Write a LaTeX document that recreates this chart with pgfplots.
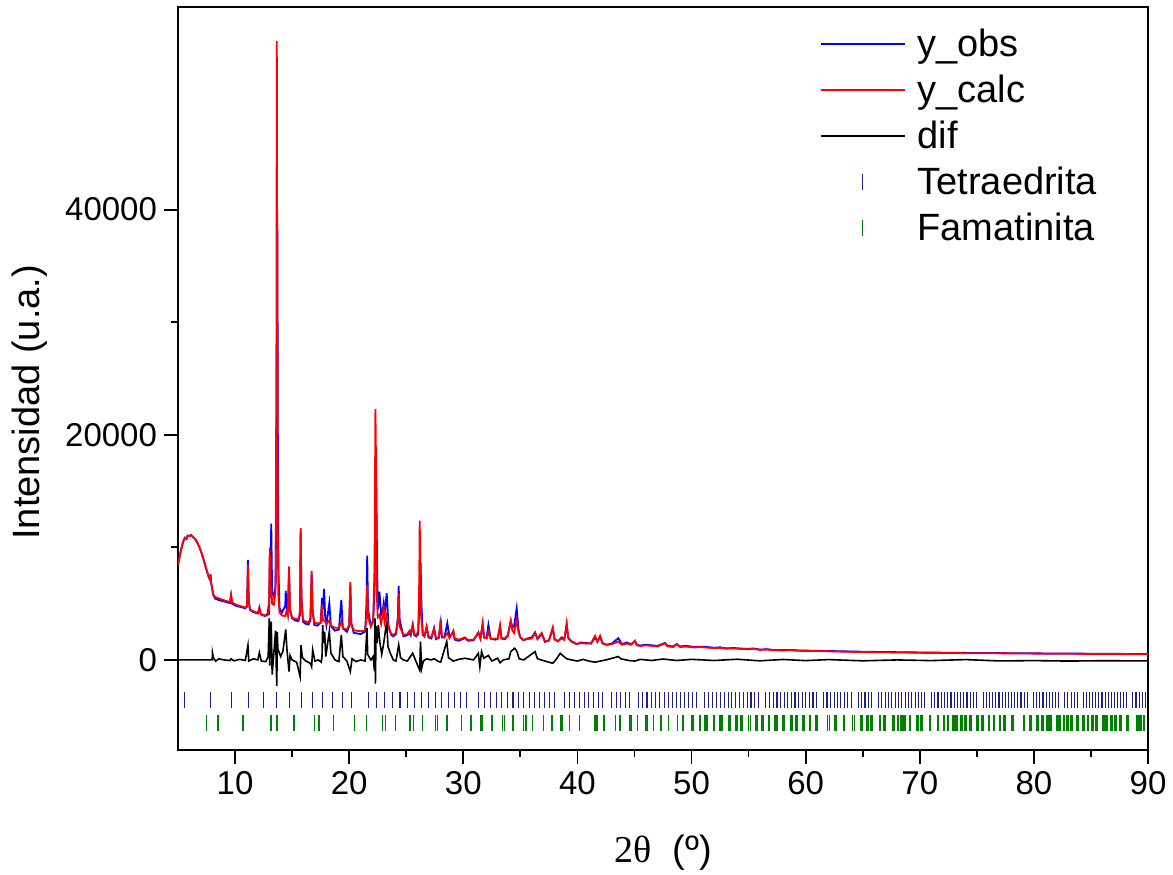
\documentclass[border=0pt]{standalone}
\usepackage{fontspec}
\setmainfont{Liberation Sans}
\newfontfamily\seriffont{Liberation Serif}
\usepackage{pgfplots}
\pgfplotsset{compat=1.18}
\definecolor{tetra}{RGB}{30,30,140}
\definecolor{fama}{RGB}{0,128,0}

\pgfplotstableread{
x y
5.00 8450
5.15 9200
5.30 9900
5.45 10500
5.60 10850
5.75 10750
5.85 11050
6.00 11000
6.15 11100
6.30 10950
6.50 10750
6.70 10400
6.90 9950
7.10 9400
7.30 8700
7.50 8000
7.70 7350
7.80 7150
7.85 7600
7.90 6900
8.00 6300
8.10 5800
8.25 5600
8.50 5500
8.80 5380
9.20 5250
9.55 5130
9.65 5800
9.75 5100
10.10 4900
10.50 4780
10.90 4650
11.05 4800
11.13 8450
11.20 5200
11.30 4500
11.60 4320
12.00 4170
12.13 4600
12.25 4100
12.60 3950
12.85 3950
12.98 4500
13.04 10000
13.10 5500
13.17 6500
13.25 5000
13.40 4900
13.55 6000
13.62 26000
13.66 55000
13.70 30000
13.74 12000
13.80 5500
13.90 4200
14.10 3950
14.40 3900
14.50 4300
14.62 4000
14.73 8300
14.82 4300
15.00 3750
15.30 3650
15.55 3600
15.68 4200
15.75 11700
15.82 5200
15.95 3550
16.20 3400
16.45 3350
16.60 3700
16.71 7900
16.80 4200
16.95 3300
17.20 3250
17.50 3300
17.62 4900
17.70 3500
17.85 3500
18.00 3200
18.26 3500
18.40 3050
18.75 2850
19.10 2850
19.31 3400
19.45 2800
19.80 2700
20.00 3100
20.10 6900
20.18 3200
20.40 2650
20.70 2580
21.00 2550
21.40 2600
21.52 4000
21.58 6670
21.65 3800
21.90 3000
22.10 3400
22.22 8000
22.30 22300
22.36 17000
22.42 6000
22.50 3800
22.65 4000
22.80 3200
22.95 4000
23.02 4890
23.10 3300
23.29 4000
23.45 2800
23.70 2300
23.87 2220
24.10 2400
24.27 3500
24.34 5930
24.42 3000
24.75 2220
25.10 2300
25.30 2600
25.40 2400
25.57 3110
25.70 2300
25.90 2200
26.05 2600
26.14 7000
26.18 12380
26.23 9000
26.30 4000
26.45 2200
26.60 2100
26.79 2960
26.95 2100
27.20 2000
27.44 2800
27.60 1950
27.85 2000
28.02 3615
28.12 2100
28.35 2000
28.60 2370
28.80 1950
29.13 2600
29.25 1900
29.60 1800
30.15 2000
30.40 1780
30.90 1800
31.32 2370
31.50 1900
31.70 3320
31.82 2000
32.05 1900
32.20 2520
32.40 1850
32.80 1900
33.00 1850
33.22 3110
33.35 1900
33.66 1930
33.90 2100
34.16 3500
34.30 2600
34.45 2400
34.68 3555
34.85 2400
35.00 2000
35.27 1780
35.60 1850
36.00 1900
36.29 2370
36.50 1900
36.87 2400
37.16 1630
37.50 1700
37.84 2900
38.00 1800
38.30 1700
38.63 1900
38.85 1800
39.06 3260
39.20 1900
39.50 1600
39.94 1420
40.30 1500
40.80 1450
41.20 1500
41.55 2130
41.75 1600
41.99 2130
42.20 1450
42.57 1330
43.00 1400
43.59 1630
43.90 1350
44.32 1450
44.70 1350
45.05 1720
45.20 1300
45.49 1240
46.00 1300
46.50 1250
47.00 1200
47.68 1480
47.90 1200
48.40 1150
48.70 1420
49.00 1150
49.58 1185
50.20 1100
50.80 1150
51.33 1100
52.00 1050
52.50 1080
53.00 1000
53.70 1030
54.30 980
55.00 950
55.42 990
56.00 890
56.60 920
57.20 860
58.00 840
58.70 860
59.40 810
60.00 800
61.00 790
62.00 760
63.00 740
64.00 720
65.00 700
66.00 690
67.00 680
68.00 660
69.00 650
70.00 630
72.00 620
74.00 600
76.00 590
78.00 580
80.00 560
82.00 550
84.00 540
86.00 530
88.00 515
90.00 505
}\ycalc

\pgfplotstableread{
x y
5.00 8450
5.15 9200
5.30 9900
5.45 10500
5.60 10850
5.75 10750
5.85 11050
6.00 11000
6.15 11100
6.30 10950
6.50 10750
6.70 10400
6.90 9950
7.10 9400
7.30 8700
7.50 8000
7.70 7350
7.80 7150
7.85 7600
7.90 6900
8.00 6300
8.10 5750
8.25 5450
8.50 5350
8.80 5250
9.20 5150
9.55 5050
9.65 5700
9.75 5000
10.10 4800
10.50 4700
10.90 4580
11.05 4750
11.13 8890
11.20 5300
11.30 4450
11.60 4250
12.00 4120
12.13 4650
12.25 4050
12.60 3900
12.85 4100
12.90 4500
12.98 4000
13.04 9000
13.10 7000
13.17 12100
13.25 6000
13.40 5600
13.55 6500
13.62 16000
13.67 27000
13.71 38200
13.75 20000
13.80 8000
13.90 4600
14.10 4200
14.40 4800
14.44 6160
14.50 4800
14.62 4100
14.73 7800
14.82 4500
15.00 3700
15.30 3500
15.55 3450
15.68 4000
15.75 11300
15.82 5600
15.95 3400
16.20 3200
16.45 3150
16.60 3500
16.71 7600
16.80 4300
16.95 3100
17.20 3050
17.50 3300
17.62 5500
17.70 4500
17.80 6300
17.90 3800
18.00 3100
18.26 5040
18.40 3000
18.75 2600
19.10 2700
19.31 5330
19.45 2800
19.80 2500
20.00 3000
20.10 6600
20.18 3300
20.40 2400
20.70 2350
21.00 2300
21.40 2500
21.52 5000
21.58 9270
21.65 4500
21.90 3000
22.10 3500
22.22 6000
22.30 12000
22.38 15400
22.45 8000
22.52 4500
22.65 6070
22.80 4000
22.95 4500
23.02 5000
23.10 4000
23.29 5930
23.45 3000
23.70 2200
23.87 2100
24.10 2300
24.27 3800
24.34 6580
24.42 3600
24.75 2100
25.10 2200
25.30 2400
25.40 2200
25.57 3110
25.70 2200
25.90 2100
26.05 2300
26.14 4500
26.20 7500
26.26 8600
26.33 5000
26.45 2300
26.60 2100
26.79 2900
26.95 2000
27.20 1900
27.44 2815
27.60 1850
27.85 1950
28.02 3300
28.12 2000
28.35 2000
28.60 3260
28.80 2000
29.13 2500
29.25 1800
29.60 1700
30.15 1950
30.40 1700
30.90 1750
31.32 2450
31.50 1900
31.70 3100
31.82 2000
32.05 2000
32.20 3110
32.40 1900
32.80 1800
33.00 1850
33.22 2900
33.35 1900
33.66 1850
33.90 2200
34.16 3450
34.30 2900
34.45 3000
34.68 4590
34.85 2600
35.00 2000
35.27 1750
35.60 1900
36.00 2000
36.29 2450
36.50 1850
36.87 2300
37.16 1600
37.50 1750
37.84 2750
38.00 1850
38.30 1650
38.63 2000
38.85 1800
39.06 3100
39.20 1950
39.50 1650
39.94 1400
40.30 1550
40.80 1500
41.20 1450
41.55 2000
41.75 1650
41.99 2050
42.20 1500
42.57 1350
43.00 1450
43.59 1930
43.90 1400
44.32 1550
44.70 1400
45.05 1650
45.20 1350
45.49 1280
46.00 1350
46.50 1300
47.00 1250
47.68 1500
47.90 1250
48.40 1200
48.70 1400
49.00 1200
49.58 1250
50.20 1150
50.80 1180
51.33 1150
52.00 1080
52.50 1120
53.00 1030
53.70 1060
54.30 1010
55.00 980
55.42 1020
56.00 920
56.60 950
57.20 890
58.00 870
58.70 890
59.40 840
60.00 830
61.00 810
62.00 790
63.00 770
64.00 750
65.00 730
66.00 715
67.00 700
68.00 690
69.00 680
70.00 665
72.00 645
74.00 625
76.00 610
78.00 600
80.00 585
82.00 570
84.00 560
86.00 550
88.00 535
90.00 525
}\yobs

\pgfplotstableread{
x y
5.00 0
8.00 0
8.02 650
8.10 200
8.30 -100
8.60 100
9.00 0
9.55 -50
9.65 100
9.90 -80
10.40 50
10.90 -50
11.13 1300
11.20 -100
11.60 100
12.00 0
12.13 650
12.30 -100
12.70 -150
12.90 300
13.00 3700
13.04 -500
13.10 1800
13.17 3400
13.25 -1300
13.40 600
13.55 2600
13.62 -1000
13.66 -2300
13.70 2500
13.75 1000
13.85 700
14.00 300
14.20 800
14.44 2700
14.55 900
14.73 -1040
14.82 400
15.00 0
15.40 -200
15.70 -1480
15.78 1300
15.90 200
16.20 -100
16.60 -300
16.71 -600
16.80 900
17.00 -100
17.30 0
17.55 -200
17.62 300
17.68 3100
17.75 1500
17.85 2500
17.95 300
18.26 2520
18.40 600
18.76 0
19.10 -150
19.31 2220
19.45 300
19.80 -100
20.10 -1040
20.25 100
20.60 -150
21.00 0
21.40 -100
21.56 2815
21.62 500
21.90 0
22.10 300
22.22 -1000
22.26 3700
22.30 -2100
22.36 3000
22.45 1500
22.55 3110
22.70 1500
22.85 500
23.00 1300
23.29 3410
23.40 1200
23.60 600
23.87 0
24.10 -100
24.34 1330
24.50 200
24.75 0
25.10 -100
25.57 600
25.80 0
26.18 -900
26.25 1630
26.35 -740
26.50 -100
26.79 100
27.20 0
27.44 100
27.85 -150
28.02 -200
28.55 1630
28.70 200
29.13 -100
29.60 50
30.15 150
30.90 0
31.32 590
31.45 -590
31.60 740
31.80 150
32.20 400
32.50 -100
33.00 150
33.22 -250
33.50 0
34.00 100
34.16 740
34.50 1040
34.68 800
34.90 100
35.30 0
36.29 740
36.50 100
37.00 -50
37.84 -300
38.10 0
38.50 590
38.70 400
39.06 100
39.50 0
40.00 -100
40.50 50
41.00 -100
41.55 -200
42.00 -100
42.50 0
43.59 300
43.80 100
44.50 -50
45.05 -100
45.50 50
46.50 -50
47.50 80
48.70 -50
50.00 50
52.00 -50
54.00 60
56.00 -80
58.00 40
60.00 -60
62.00 30
65.00 -80
68.00 0
71.00 -60
74.00 30
77.00 -90
80.00 -60
83.00 -100
86.00 -70
90.00 -90
}\ydif

\pgfplotstableread{
x y
5.57 -3560
7.88 -3560
9.65 -3560
11.15 -3560
12.47 -3560
13.67 -3560
14.77 -3560
15.80 -3560
16.76 -3560
17.67 -3560
18.54 -3560
19.38 -3560
20.18 -3560
21.69 -3560
22.41 -3560
23.11 -3560
23.79 -3560
24.45 -3560
25.10 -3560
25.73 -3560
26.34 -3560
26.94 -3560
27.54 -3560
28.12 -3560
28.68 -3560
29.24 -3560
29.79 -3560
30.32 -3560
31.36 -3560
31.88 -3560
32.40 -3560
32.90 -3560
33.38 -3560
33.87 -3560
34.36 -3560
34.84 -3560
35.31 -3560
35.77 -3560
36.23 -3560
36.68 -3560
37.14 -3560
37.59 -3560
38.03 -3560
38.89 -3560
39.32 -3560
39.75 -3560
40.18 -3560
40.59 -3560
41.00 -3560
41.41 -3560
41.82 -3560
42.23 -3560
43.02 -3560
43.41 -3560
43.80 -3560
44.20 -3560
44.59 -3560
45.35 -3560
45.73 -3560
46.10 -3560
46.48 -3560
46.85 -3560
47.23 -3560
47.60 -3560
47.96 -3560
48.32 -3560
48.67 -3560
49.03 -3560
49.39 -3560
49.75 -3560
50.11 -3560
50.46 -3560
51.15 -3560
51.50 -3560
51.84 -3560
52.19 -3560
52.54 -3560
52.87 -3560
53.21 -3560
53.54 -3560
53.88 -3560
54.21 -3560
54.55 -3560
54.88 -3560
55.21 -3560
55.54 -3560
55.86 -3560
56.51 -3560
56.84 -3560
57.16 -3560
57.49 -3560
57.81 -3560
58.12 -3560
58.44 -3560
58.75 -3560
59.07 -3560
59.39 -3560
59.70 -3560
60.02 -3560
60.33 -3560
60.64 -3560
60.94 -3560
61.56 -3560
61.87 -3560
62.18 -3560
62.49 -3560
62.79 -3560
63.09 -3560
63.39 -3560
63.69 -3560
63.99 -3560
64.60 -3560
64.90 -3560
65.20 -3560
65.49 -3560
65.79 -3560
66.38 -3560
66.67 -3560
66.97 -3560
67.27 -3560
67.56 -3560
67.85 -3560
68.14 -3560
68.43 -3560
68.72 -3560
69.01 -3560
69.30 -3560
69.59 -3560
69.88 -3560
70.17 -3560
70.45 -3560
71.02 -3560
71.31 -3560
71.60 -3560
71.88 -3560
72.17 -3560
72.45 -3560
72.74 -3560
73.02 -3560
73.30 -3560
73.58 -3560
73.86 -3560
74.14 -3560
74.43 -3560
74.71 -3560
74.99 -3560
75.55 -3560
75.82 -3560
76.10 -3560
76.38 -3560
76.66 -3560
76.94 -3560
77.22 -3560
77.49 -3560
77.77 -3560
78.05 -3560
78.32 -3560
78.60 -3560
78.87 -3560
79.15 -3560
79.42 -3560
79.98 -3560
80.25 -3560
80.52 -3560
80.80 -3560
81.07 -3560
81.34 -3560
81.62 -3560
81.89 -3560
82.17 -3560
82.71 -3560
82.98 -3560
83.26 -3560
83.53 -3560
83.80 -3560
84.34 -3560
84.62 -3560
84.89 -3560
85.16 -3560
85.43 -3560
85.70 -3560
85.97 -3560
86.24 -3560
86.51 -3560
86.79 -3560
87.06 -3560
87.33 -3560
87.60 -3560
87.87 -3560
88.14 -3560
88.68 -3560
88.95 -3560
89.22 -3560
89.49 -3560
89.76 -3560
}\tetra

\pgfplotstableread{
x y
7.51 -5590
8.48 -5590
10.67 -5590
13.15 -5590
13.65 -5590
15.17 -5590
16.95 -5590
17.36 -5590
18.61 -5590
20.48 -5590
21.51 -5590
22.91 -5590
23.20 -5590
24.05 -5590
25.33 -5590
25.62 -5590
26.41 -5590
27.55 -5590
27.73 -5590
28.55 -5590
29.86 -5590
30.65 -5590
31.53 -5590
31.70 -5590
32.49 -5590
33.42 -5590
33.60 -5590
34.33 -5590
35.27 -5590
35.47 -5590
36.06 -5590
37.02 -5590
37.75 -5590
38.54 -5590
38.71 -5590
39.30 -5590
40.17 -5590
41.55 -5590
41.70 -5590
42.34 -5590
43.33 -5590
43.74 -5590
44.56 -5590
44.70 -5590
45.26 -5590
45.95 -5590
46.10 -5590
46.66 -5590
47.30 -5590
47.97 -5590
48.76 -5590
49.23 -5590
50.02 -5590
50.11 -5590
50.69 -5590
50.78 -5590
51.20 -5590
51.35 -5590
51.92 -5590
52.01 -5590
52.52 -5590
52.67 -5590
53.29 -5590
53.38 -5590
53.91 -5590
54.00 -5590
54.31 -5590
54.40 -5590
55.00 -5590
55.15 -5590
55.66 -5590
55.75 -5590
56.17 -5590
56.32 -5590
56.74 -5590
56.83 -5590
57.34 -5590
57.49 -5590
58.00 -5590
58.09 -5590
58.70 -5590
58.79 -5590
59.16 -5590
59.25 -5590
59.73 -5590
59.88 -5590
60.33 -5590
60.42 -5590
60.90 -5590
61.05 -5590
61.92 -5590
62.08 -5590
62.58 -5590
62.67 -5590
63.31 -5590
63.40 -5590
64.10 -5590
64.27 -5590
64.83 -5590
64.92 -5590
65.36 -5590
65.45 -5590
65.71 -5590
65.80 -5590
66.47 -5590
66.56 -5590
66.82 -5590
66.95 -5590
67.64 -5590
67.73 -5590
68.05 -5590
68.14 -5590
68.34 -5590
68.43 -5590
68.63 -5590
68.72 -5590
69.10 -5590
69.19 -5590
69.74 -5590
69.83 -5590
70.09 -5590
70.18 -5590
70.85 -5590
70.94 -5590
71.55 -5590
71.64 -5590
72.08 -5590
72.17 -5590
72.43 -5590
72.52 -5590
72.90 -5590
72.99 -5590
73.19 -5590
73.28 -5590
73.60 -5590
73.69 -5590
73.98 -5590
74.07 -5590
74.42 -5590
74.51 -5590
75.00 -5590
75.09 -5590
75.44 -5590
75.53 -5590
76.02 -5590
76.11 -5590
76.46 -5590
76.55 -5590
76.99 -5590
77.08 -5590
77.40 -5590
77.49 -5590
78.07 -5590
78.16 -5590
79.09 -5590
79.18 -5590
79.68 -5590
79.77 -5590
80.26 -5590
80.35 -5590
80.70 -5590
80.79 -5590
81.14 -5590
81.23 -5590
81.43 -5590
81.52 -5590
82.01 -5590
82.10 -5590
82.25 -5590
82.34 -5590
82.60 -5590
82.69 -5590
82.89 -5590
82.98 -5590
83.24 -5590
83.33 -5590
83.77 -5590
83.86 -5590
84.29 -5590
84.38 -5590
84.70 -5590
84.79 -5590
85.08 -5590
85.17 -5590
85.46 -5590
85.55 -5590
86.04 -5590
86.13 -5590
86.34 -5590
86.43 -5590
86.75 -5590
86.84 -5590
87.13 -5590
87.22 -5590
87.56 -5590
87.65 -5590
88.15 -5590
88.24 -5590
89.02 -5590
89.11 -5590
89.32 -5590
89.41 -5590
89.61 -5590
89.70 -5590
}\fama

\begin{document}
\begin{tikzpicture}
\begin{axis}[
  scale only axis,
  width=485pt, height=371.5pt,
  xmin=5, xmax=90, ymin=-8000, ymax=58000,
  xtick={10,20,...,90}, ytick={0,20000,40000},
  minor x tick num=1, minor y tick num=1,
  xtick pos=bottom, ytick pos=left,
  tick align=outside,
  major tick length=7pt, minor tick length=3.5pt,
  every tick/.style={black, line width=0.9pt},
  axis line style={line width=0.9pt},
  scaled ticks=false,
  /pgf/number format/assume math mode=true,
  /pgf/number format/1000 sep={},
  ticklabel style={font=\fontsize{16.5}{19}\selectfont},
  xlabel={{\seriffont 2θ}\ \ (º)},
  ylabel={Intensidad (u.a.)},
  xlabel style={at={(axis description cs:0.5,-0.138)}, anchor=center, font=\fontsize{19}{23}\selectfont},
  ylabel style={at={(axis description cs:-0.1526,0.468)}, anchor=center, font=\fontsize{19}{23}\selectfont},
  legend style={draw=none, fill=none, at={(rel axis cs:0.655,0.982)}, anchor=north west,
    font=\fontsize{19}{23}\selectfont, row sep=3.7pt,
    /tikz/every odd column/.append style={column sep=4pt}},
  legend cell align=left,
  legend image code/.code={\draw[#1] (0pt,0pt) -- (42pt,0pt);},
]
\addplot[blue, line width=0.9pt] table {\yobs};
\addlegendentry{y\_obs}
\addplot[red, line width=0.9pt] table {\ycalc};
\addlegendentry{y\_calc}
\addplot[black, line width=0.8pt] table {\ydif};
\addlegendentry{dif}
\addplot[forget plot, only marks, mark=|, mark size=4.1pt, mark options={tetra, line width=0.55pt}] table {\tetra};
\addplot[forget plot, only marks, mark=|, mark size=3.9pt, mark options={fama, line width=0.8pt}] table {\fama};
\addlegendimage{legend image code/.code={\draw[tetra, line width=0.5pt] (21pt,-4pt) -- (21pt,4pt);}}
\addlegendentry{Tetraedrita}
\addlegendimage{legend image code/.code={\draw[fama, line width=0.6pt] (21pt,-4pt) -- (21pt,4pt);}}
\addlegendentry{Famatinita}
\end{axis}
\pgfresetboundingbox
\useasboundingbox ([shift={(-89pt,-62.5pt)}]current axis.south west) rectangle ([shift={(12.5pt,3.5pt)}]current axis.north east);
\end{tikzpicture}
\end{document}
